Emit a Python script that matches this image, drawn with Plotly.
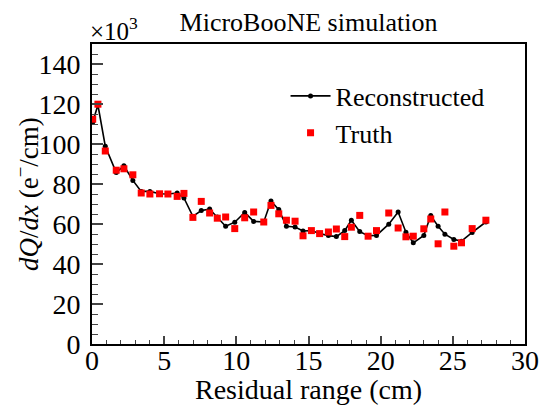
import plotly.graph_objects as go

# Residual range (cm)
res_range = [0.05, 0.41, 0.92, 1.68, 2.21, 2.83, 3.41, 4.01, 4.68, 5.26, 5.90, 6.37,
             6.99, 7.57, 8.15, 8.68, 9.26, 9.89, 10.58, 11.20, 11.90, 12.40, 12.94, 13.47,
             14.07, 14.62, 15.20, 15.77, 16.38, 16.93, 17.51, 17.97, 18.55, 19.13, 19.71,
             20.56, 21.21, 21.75, 22.26, 22.99, 23.47, 23.98, 24.45, 25.07, 25.60, 26.34, 27.29]

# dQ/dx in units of 10^3 e-/cm
reco = [110.9, 119.5, 98.9, 85.7, 89.1, 81.8, 76.3, 76.3, 75.1, 75.0, 75.5, 73.0,
        63.8, 66.7, 67.5, 63.5, 58.9, 60.9, 65.8, 61.3, 61.0, 71.5, 67.2, 58.9,
        58.5, 56.5, 56.7, 55.2, 54.2, 53.7, 56.7, 61.9, 56.2, 54.1, 54.3,
        59.9, 66.0, 55.9, 50.6, 54.3, 64.2, 58.9, 54.9, 52.3, 51.4, 55.8, 61.0]

truth = [112.4, 119.9, 96.5, 86.9, 87.6, 84.6, 75.5, 75.0, 75.1, 75.0, 73.8, 75.3,
         63.3, 71.3, 65.5, 62.9, 63.5, 57.7, 63.1, 66.0, 61.0, 69.3, 65.1, 61.9,
         61.4, 54.1, 56.7, 55.2, 56.0, 57.5, 53.7, 58.4, 64.3, 53.9, 56.7,
         65.5, 58.0, 53.6, 53.9, 57.6, 62.5, 50.1, 66.0, 48.9, 50.6, 57.7, 61.9]

FONT = "Liberation Serif"
X_RANGE = [0, 30]

fig = go.Figure()
fig.add_trace(go.Scatter(
    x=res_range, y=reco, mode="lines+markers", name="Reconstructed",
    line=dict(color="black", width=1.6),
    marker=dict(color="black", size=5, symbol="circle"),
))
fig.add_trace(go.Scatter(
    x=res_range, y=truth, mode="markers", name="Truth",
    marker=dict(color="#ff0000", size=7, symbol="square"),
))
# empty helper trace so the label-only overlay axis is created
fig.add_trace(go.Scatter(x=[None], y=[None], xaxis="x2", showlegend=False,
                         hoverinfo="skip", mode="markers"))

fig.update_layout(
    width=553, height=405,
    margin=dict(l=92, r=28, t=44, b=61, autoexpand=False),
    paper_bgcolor="white", plot_bgcolor="white",
    font=dict(family=FONT, color="black", size=26),
    title=dict(text="MicroBooNE simulation", x=0.5, xref="paper",
               y=1 - 31 / 405, yanchor="bottom", yref="container",
               font=dict(size=26, family=FONT)),
    showlegend=True,
    legend=dict(x=0.447, y=0.905, xanchor="left", yanchor="top",
                bgcolor="rgba(0,0,0,0)", borderwidth=0, itemwidth=40,
                font=dict(size=26, family=FONT), tracegroupgap=0),
    xaxis=dict(range=X_RANGE, dtick=5, tick0=0, ticks="inside", ticklen=8, tickwidth=1.5,
               showline=True, linewidth=2, linecolor="black", mirror=True,
               showgrid=False, zeroline=False, showticklabels=False, automargin=False,
               minor=dict(dtick=1, ticks="inside", ticklen=4, tickwidth=1.2, showgrid=False)),
    xaxis2=dict(range=X_RANGE, dtick=5, tick0=0, overlaying="x", side="bottom",
                anchor="free", position=0.05,
                ticks="outside", ticklen=6, tickcolor="rgba(0,0,0,0)",
                showline=False, showgrid=False, zeroline=False, automargin=False,
                tickfont=dict(size=28, family=FONT)),
    yaxis=dict(range=[0, 150], dtick=20, tick0=0, ticks="inside", ticklen=11, tickwidth=1.5,
               showline=True, linewidth=2, linecolor="black", mirror=True,
               showgrid=False, zeroline=False, ticklabelstandoff=4, automargin=False,
               minor=dict(dtick=5, ticks="inside", ticklen=6, tickwidth=1.2, showgrid=False),
               tickfont=dict(size=28, family=FONT)),
)

# axis titles
fig.add_annotation(text="Residual range (cm)", xref="paper", yref="paper",
                   x=0.5, y=-0.153, xanchor="center", yanchor="middle", showarrow=False,
                   font=dict(size=28, family=FONT))
fig.add_annotation(text="<i>dQ</i>/<i>dx</i> (e<sup>−</sup>/cm)", xref="paper", yref="paper",
                   x=-0.150, y=0.5, xanchor="center", yanchor="middle", showarrow=False,
                   textangle=-90, font=dict(size=27, family=FONT))

fig.add_annotation(text="×10<sup>3</sup>", xref="paper", yref="paper",
                   x=0, y=1, xanchor="left", yanchor="bottom", showarrow=False,
                   font=dict(size=25, family=FONT), xshift=-4, yshift=-3)

fig.write_html("out.html")
